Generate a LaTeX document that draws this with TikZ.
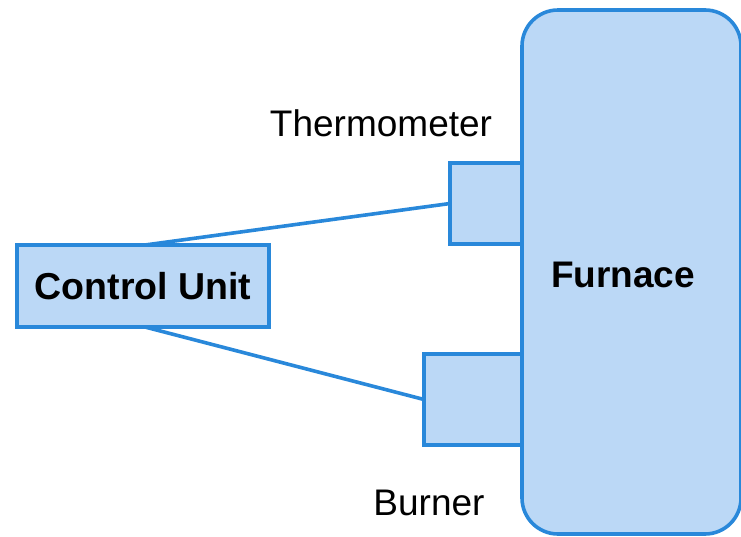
\documentclass[tikz,border=0pt]{standalone}
\usepackage{fontspec}
\setmainfont{Liberation Sans}
\definecolor{edgeblue}{RGB}{41,136,218}
\definecolor{fillblue}{RGB}{187,216,246}
\begin{document}
\begin{tikzpicture}[x=1pt,y=-1pt,
  box/.style={draw=edgeblue,fill=fillblue,line width=3.6pt,inner sep=0pt,outer sep=0pt},
  wire/.style={draw=edgeblue,line width=3.6pt},
  lbl/.style={font=\fontsize{37}{41}\selectfont,inner sep=0pt}]
\useasboundingbox (0,0) rectangle (741,536);
\node[box,rounded corners=36pt,minimum width=219pt,minimum height=524pt] (furnace) at (631.5,272) {};
\node[lbl,font=\fontsize{37}{41}\selectfont\bfseries] (furnacelabel) at (623,275) {Furnace};
\node[box,minimum width=72pt,minimum height=81pt] (thermo) at (486,203.5) {};
\node[box,minimum width=98pt,minimum height=91pt] (burner) at (473,399.5) {};
\node[box,minimum width=252pt,minimum height=82pt,font=\fontsize{37.5}{41}\selectfont\bfseries] (cu) at (143,286) {Control Unit};
\node[lbl,anchor=base] (thermolabel) at (381,136) {Thermometer};
\node[lbl,anchor=base] (burnerlabel) at (429,515) {Burner};
\draw[wire] ([xshift=2pt]cu.north) -- (thermo.west);
\draw[wire] ([xshift=2pt]cu.south) -- (burner.west);
\end{tikzpicture}
\end{document}
